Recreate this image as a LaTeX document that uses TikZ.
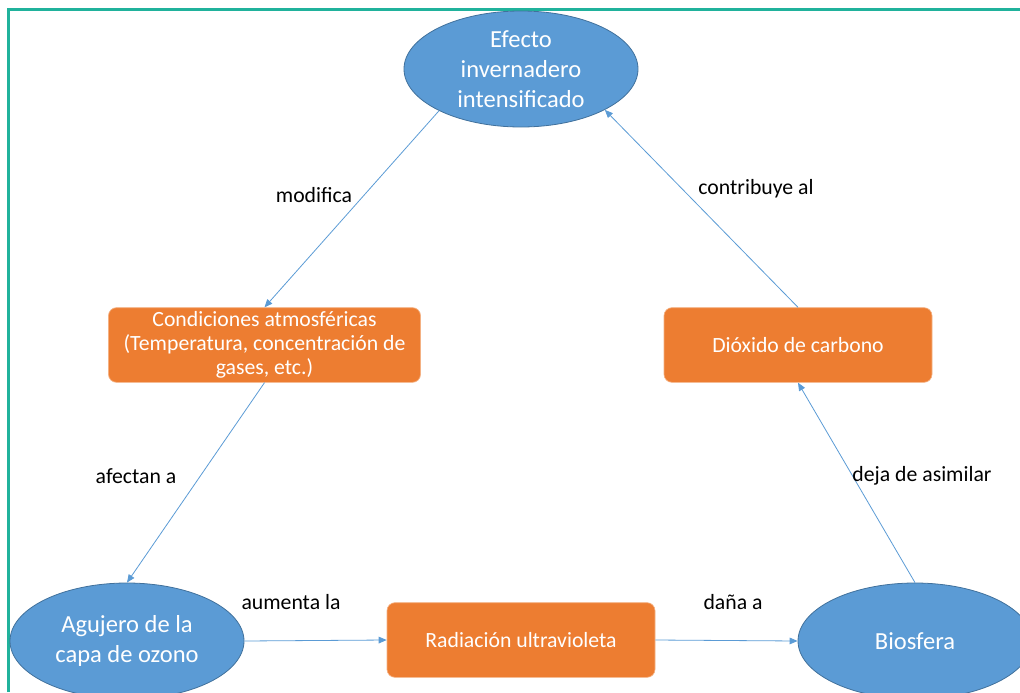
\documentclass[tikz,border=0pt]{standalone}
\usepackage{fontspec}
\setmainfont{Carlito}
\usetikzlibrary{shapes.geometric,arrows.meta}
\definecolor{ovalblue}{RGB}{91,155,213}
\definecolor{ovaledge}{RGB}{65,113,156}
\definecolor{boxorange}{RGB}{237,125,49}
\definecolor{boxedge}{RGB}{244,177,131}
\definecolor{linkblue}{RGB}{91,155,213}
\definecolor{frameteal}{RGB}{32,178,156}

\begin{document}
\begin{tikzpicture}[x=0.75pt,y=-0.75pt,
  oval/.style={ellipse, fill=ovalblue, draw=ovaledge, line width=0.6pt,
    minimum width=175.5pt, minimum height=87pt, inner sep=0pt,
    text=white, align=center, font=\fontsize{18.4}{22.5}\selectfont},
  procbox/.style={rectangle, rounded corners=6pt, fill=boxorange, draw=boxedge,
    line width=0.5pt, minimum height=56pt, inner sep=2pt,
    text=white, align=center, font=\fontsize{16.3}{18}\selectfont},
  link/.style={draw=linkblue, line width=0.6pt, -{Triangle[length=6pt,width=5pt]}},
  tag/.style={font=\fontsize{16.3}{18}\selectfont, text=black, inner sep=0pt}]

\useasboundingbox (0,0) rectangle (1020,692);
\clip (0,0) rectangle (1020,692);

% page frame (top and left edges only)
\draw[frameteal, line width=2.25pt] (8.7,692) -- (8.7,9.7) -- (1020,9.7);

% ovals
\node[oval] (efecto) at (521,69) {Efecto\\invernadero\\intensificado};
\node[oval] (agujero) at (127,641) {Agujero de la\\capa de ozono};
\node[oval] (bio) at (915,641) {Biosfera};

% boxes
\node[procbox, minimum width=234pt] (cond) at (264.5,345)
  {Condiciones atmosféricas\\(Temperatura, concentración de\\gases, etc.)};
\node[procbox, minimum width=201pt] (diox) at (798,345) {Dióxido de carbono};
\node[procbox, minimum width=201pt] (rad) at (521,640) {Radiación ultravioleta};

% connectors
\draw[link] (efecto.207) -- (cond.north);
\draw[link] (cond.south) -- (agujero.north);
\draw[link] (agujero.east) -- (rad.west);
\draw[link] (rad.east) -- (bio.west);
\draw[link] (bio.north) -- (diox.south);
\draw[link] (diox.north) -- (efecto.334);

% connector labels
\node[tag] (t1) at (314,195) {modifica};
\node[tag] (t2) at (756,189) {contribuye al};
\node[tag] (t3) at (136,476) {afectan a};
\node[tag] (t4) at (922,476) {deja de asimilar};
\node[tag] (t5) at (291,602) {aumenta la};
\node[tag] (t6) at (733,602) {daña a};
\end{tikzpicture}
\end{document}
